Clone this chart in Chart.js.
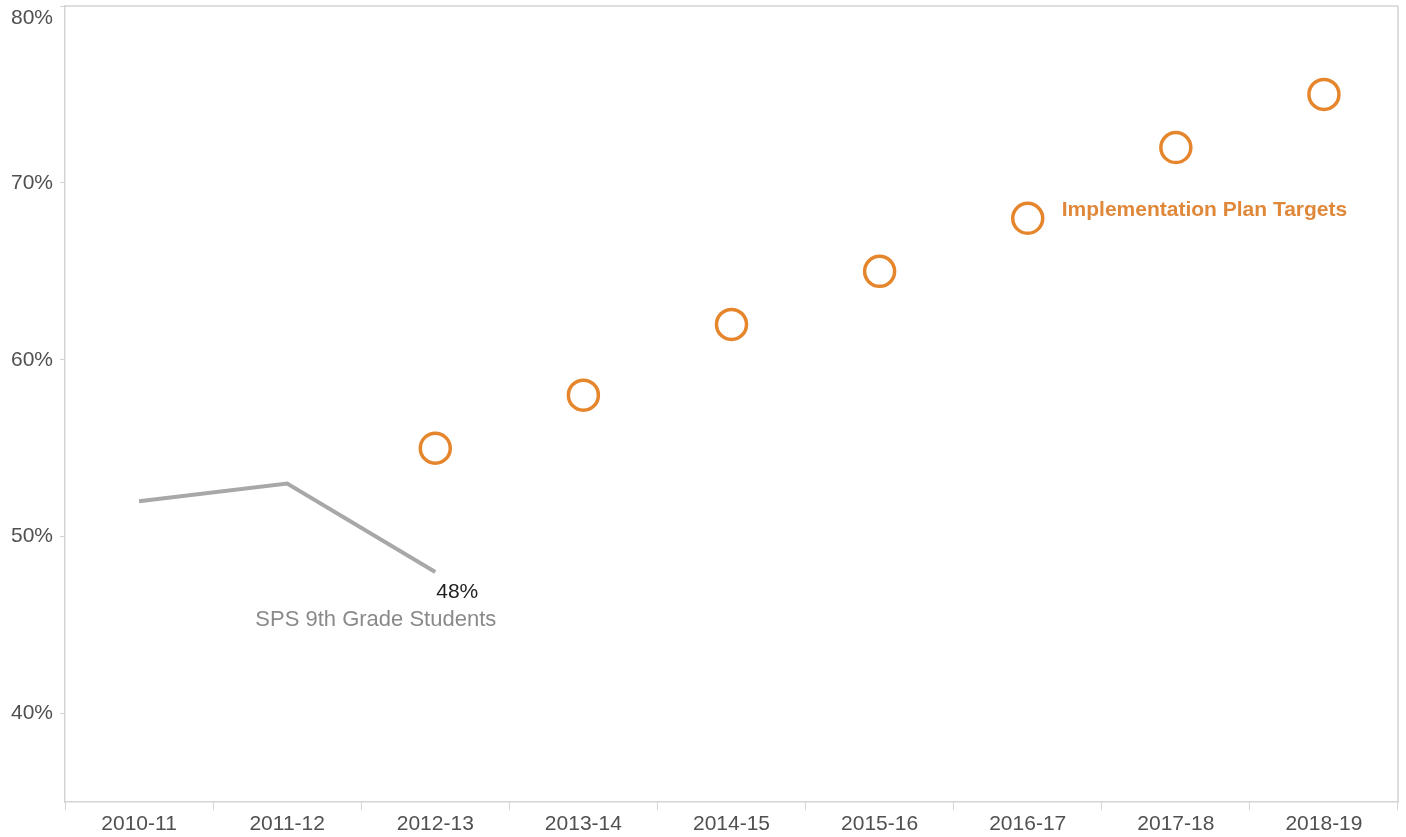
<!DOCTYPE html>
<html>
<head>
<meta charset="utf-8">
<script src="https://cdn.jsdelivr.net/npm/chart.js@4/dist/chart.umd.min.js"></script>
<style>
  html, body { margin: 0; padding: 0; background: #fff; }
  #wrap { width: 1406px; height: 837px; }
</style>
</head>
<body>
<div id="wrap"><canvas id="chart"></canvas></div>
<script>
// ==== Data ====
const years = ['2010-11', '2011-12', '2012-13', '2013-14', '2014-15', '2015-16', '2016-17', '2017-18', '2018-19'];
const spsStudents = [52, 53, 48, null, null, null, null, null, null];
const planTargets = [null, null, 55, 58, 62, 65, 68, 72, 75];
const yTicks = [40, 50, 60, 70, 80];

const axisGray = '#d4d4d4';
const labelGray = '#505050';
const orange = '#e6862c';
const fontFam = '"Liberation Sans", Arial, sans-serif';

// box around the plot, top tick label, text notes next to the marks
const notes = {
  id: 'notes',
  afterDraw(chart) {
    const { ctx, chartArea: a, scales: { x, y } } = chart;
    ctx.save();
    ctx.strokeStyle = axisGray;
    ctx.lineWidth = 1.5;
    ctx.beginPath();
    ctx.moveTo(a.left, a.top);
    ctx.lineTo(a.right, a.top);
    ctx.lineTo(a.right, a.bottom);
    ctx.stroke();

    // top label sits a bit lower so it isn't cut off (like the original)
    ctx.textBaseline = 'middle';
    ctx.textAlign = 'right';
    ctx.font = '21px ' + fontFam;
    ctx.fillStyle = labelGray;
    ctx.fillText(yTicks[yTicks.length - 1] + '%', a.left - 12, y.getPixelForValue(80) + 12);

    ctx.textAlign = 'left';
    ctx.font = 'bold 21px ' + fontFam;
    ctx.fillStyle = '#e0883a';
    ctx.fillText('Implementation Plan Targets', x.getPixelForValue(6) + 34, y.getPixelForValue(68) - 8);

    const lastX = x.getPixelForValue(2);
    const lastY = y.getPixelForValue(spsStudents[2]);
    ctx.textAlign = 'right';
    ctx.font = '21px ' + fontFam;
    ctx.fillStyle = '#222';
    ctx.fillText('48%', lastX + 43, lastY + 20);
    ctx.font = '22px ' + fontFam;
    ctx.fillStyle = '#8a8a8a';
    ctx.fillText('SPS 9th Grade Students', lastX + 61, lastY + 48);
    ctx.restore();
  }
};

new Chart(document.getElementById('chart'), {
  type: 'line',
  data: {
    labels: years,
    datasets: [
      {
        label: 'SPS 9th Grade Students',
        data: spsStudents,
        borderColor: '#a8a8a8',
        borderWidth: 4,
        pointRadius: 0,
        tension: 0,
        spanGaps: false
      },
      {
        label: 'Implementation Plan Targets',
        data: planTargets,
        showLine: false,
        pointRadius: 15,
        pointBorderWidth: 3.5,
        pointBorderColor: orange,
        pointBackgroundColor: 'rgba(255,255,255,0)'
      }
    ]
  },
  options: {
    responsive: true,
    maintainAspectRatio: false,
    animation: false,
    layout: { autoPadding: false, padding: { top: 6, right: 8, left: 0, bottom: 0 } },
    plugins: { legend: { display: false }, tooltip: { enabled: false } },
    scales: {
      x: {
        offset: true,
        grid: { offset: true, drawOnChartArea: false, color: axisGray, tickLength: 8 },
        border: { color: axisGray, width: 1.5 },
        ticks: { color: labelGray, font: { size: 21, family: fontFam }, padding: 2, maxRotation: 0 },
        afterFit(s) { s.height = 35; s.paddingLeft = 0; s.paddingRight = 0; }
      },
      y: {
        min: 35,
        max: 80,
        afterBuildTicks(s) { s.ticks = yTicks.map(v => ({ value: v })); },
        grid: { drawOnChartArea: false, color: axisGray, tickLength: 5 },
        border: { color: axisGray, width: 1.5 },
        ticks: {
          color: labelGray,
          font: { size: 21, family: fontFam },
          padding: 7,
          callback: v => (v === 80 ? '' : v + '%')
        },
        afterFit(s) { s.width = 65; s.paddingTop = 0; s.paddingBottom = 0; }
      }
    }
  },
  plugins: [notes]
});
</script>
</body>
</html>
